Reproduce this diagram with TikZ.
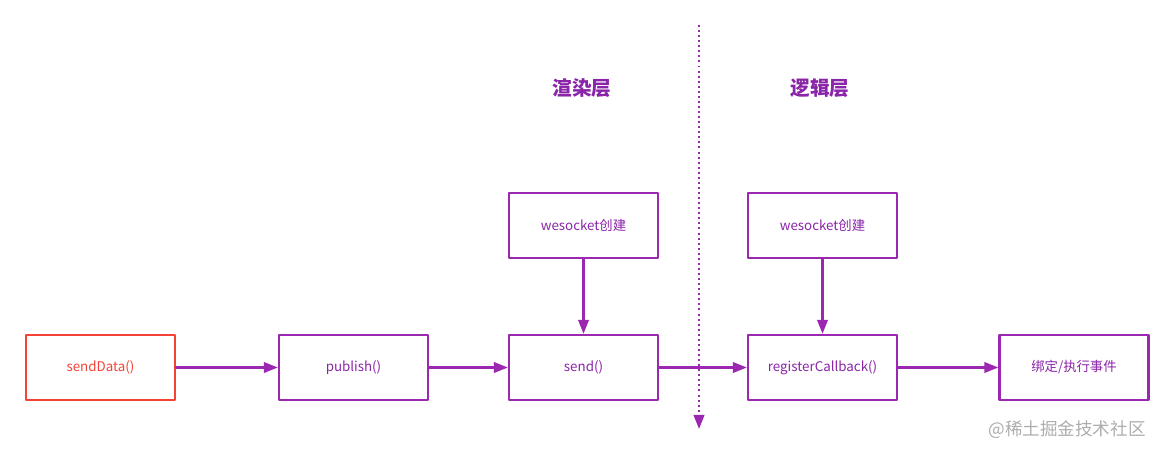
\documentclass[tikz,border=0pt]{standalone}
\usepackage{fontspec}
\setmainfont{Noto Sans CJK SC}
\usetikzlibrary{arrows.meta}
\definecolor{flowpurple}{HTML}{9C27B0}
\definecolor{flowtext}{HTML}{8A24A8}
\definecolor{flowred}{HTML}{F44336}
\tikzset{
  flow layout/.style={
    x=0.025cm,
    y=-0.025cm,
    line cap=round,
    line join=round
  },
  flow box/.style={
    draw=flowpurple,
    line width=1.8pt,
    minimum width=3.72cm,
    minimum height=1.62cm,
    font=\fontsize{9.5}{11}\selectfont,
    text=flowtext,
    inner sep=1pt
  },
  flow start/.style={
    flow box,
    draw=flowred,
    text=flowred
  },
  flow layer/.style={
    font=\bfseries\fontsize{14}{16}\selectfont,
    text=flowtext
  },
  flow arrow/.style={
    draw=flowpurple,
    line width=1.6pt,
    -{Triangle[length=10pt,width=7.5pt]}
  },
  flow divider/.style={
    draw=flowpurple,
    line width=1.6pt,
    line cap=butt,
    dash pattern=on 1.4pt off 2.2pt,
    -{Triangle[length=10pt,width=7.5pt]}
  },
  flow mark/.style={
    font=\fontsize{12.5}{14}\selectfont,
    text=black!32
  }
}

\begin{document}
\begin{tikzpicture}[flow layout]

  \useasboundingbox (0,0) rectangle (1175,454);

  % layer titles
  \node[flow layer] (renderlayer) at (582,88) {渲染层};
  \node[flow layer] (logiclayer) at (820,88) {逻辑层};

  % divider between the two layers
  \coordinate (dividertop) at (699,25);
  \coordinate (dividerend) at (699,429);
  \draw[flow divider] (dividertop) -- (dividerend);

  % boxes
  \node[flow start] (senddata) at (100.5,367.5) {sendData()};
  \node[flow box] (publish) at (353.5,367.5) {publish()};
  \node[flow box] (send) at (583.5,367.5) {send()};
  \node[flow box] (socketrender) at (583.5,225.5) {wesocket创建};
  \node[flow box] (socketlogic) at (822.5,225.5) {wesocket创建};
  \node[flow box] (register) at (822.5,367.5) {registerCallback()};
  \node[flow box] (bindevent) at (1074,367.5) {绑定/执行事件};

  % connectors
  \draw[flow arrow] (senddata) -- (publish);
  \draw[flow arrow] (publish) -- (send);
  \draw[flow arrow] (send) -- (register);
  \draw[flow arrow] (register) -- (bindevent);
  \draw[flow arrow] (socketrender) -- (send);
  \draw[flow arrow] (socketlogic) -- (register);

  \node[flow mark] (watermark) at (1067,430) {@稀土掘金技术社区};

\end{tikzpicture}
\end{document}
